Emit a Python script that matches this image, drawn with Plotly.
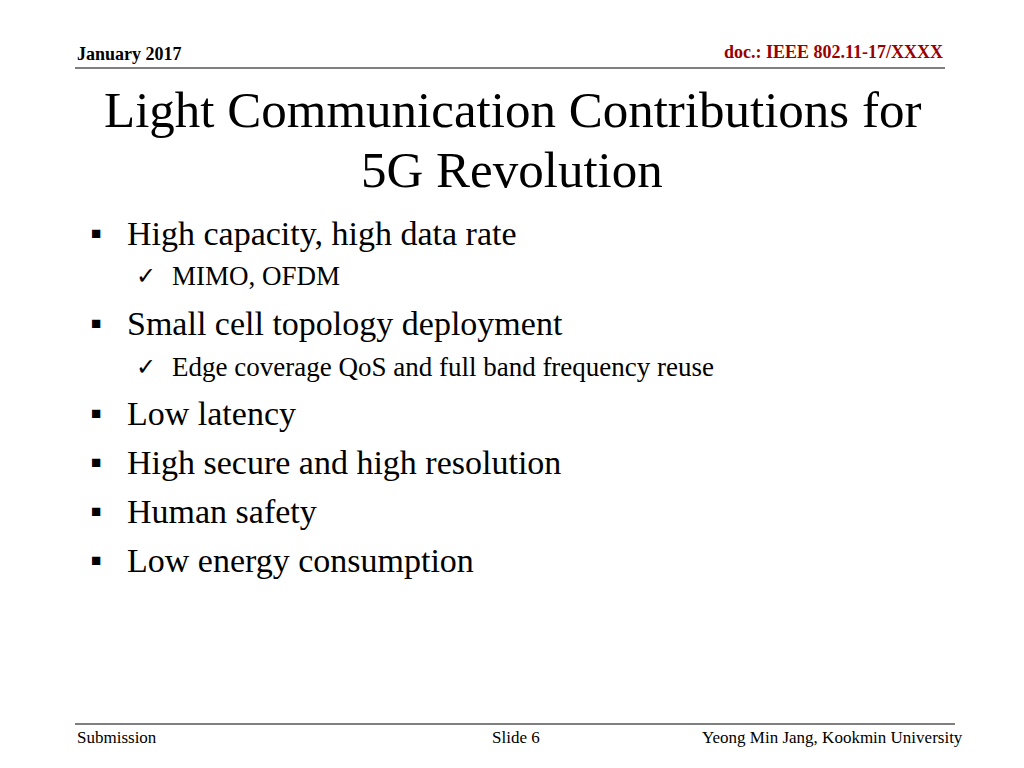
import plotly.graph_objects as go

header_left = "January 2017"
header_right = "doc.: IEEE 802.11-17/XXXX"
title_lines = ["Light Communication Contributions for", "5G Revolution"]
items = [
    ("b", "High capacity, high data rate", 233),
    ("s", "MIMO, OFDM", 276),
    ("b", "Small cell topology deployment", 323),
    ("s", "Edge coverage QoS and full band frequency reuse", 367),
    ("b", "Low latency", 413),
    ("b", "High secure and high resolution", 462),
    ("b", "Human safety", 511),
    ("b", "Low energy consumption", 560),
]
footer = ["Submission", "Slide 6", "Yeong Min Jang, Kookmin University"]

F = "Liberation Serif"
fig = go.Figure()
ann = []
def t(x, y, s, size, anchor="left", color="black", bold=False):
    if bold:
        s = "<b>" + s + "</b>"
    ann.append(dict(x=x, y=y, text=s, xref="x", yref="y", showarrow=False,
                    xanchor=anchor, yanchor="middle",
                    font=dict(family=F, size=size, color=color)))

t(75, 54, header_left, 18, bold=True)
t(945, 52, header_right, 18, anchor="right", color="#990000", bold=True)
t(512, 110, title_lines[0], 51, anchor="center")
t(512, 170, title_lines[1], 51, anchor="center")
for kind, s, y in items:
    if kind == "b":
        t(89, y, "■", 17)
        t(125, y, s, 34)
    else:
        t(134, y, "✓", 24)
        t(170, y, s, 27)
t(75, 737, footer[0], 17)
t(516, 737, footer[1], 17, anchor="center")
t(965, 737, footer[2], 17, anchor="right")

shapes = [
    dict(type="line", x0=75, x1=945, y0=68, y1=68, xref="x", yref="y", line=dict(color="black", width=1)),
    dict(type="line", x0=75, x1=955, y0=724, y1=724, xref="x", yref="y", line=dict(color="black", width=1)),
]
fig.update_layout(width=1024, height=768, margin=dict(l=0, r=0, t=0, b=0),
                  paper_bgcolor="white", plot_bgcolor="white",
                  xaxis=dict(range=[8, 1032], visible=False, fixedrange=True),
                  yaxis=dict(range=[776, 8], visible=False, fixedrange=True),
                  annotations=ann, shapes=shapes, showlegend=False)
fig.write_html("out.html")
